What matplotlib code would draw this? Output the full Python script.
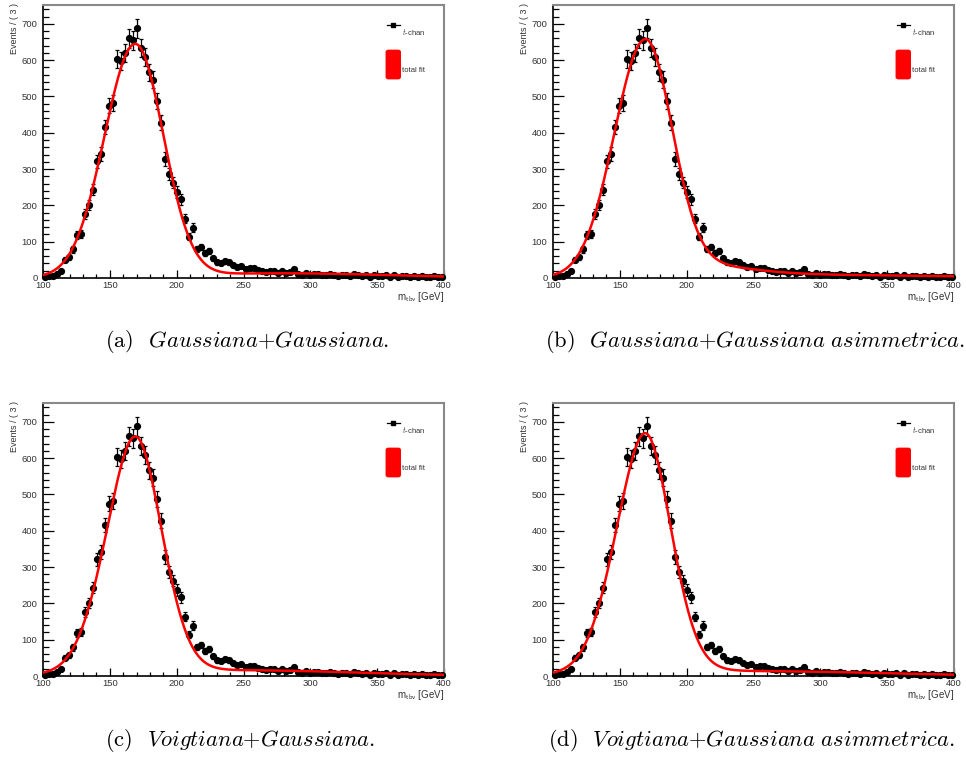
import numpy as np
import matplotlib
matplotlib.use("Agg")
import matplotlib.pyplot as plt
from matplotlib.patches import FancyBboxPatch
from matplotlib.ticker import MultipleLocator

plt.rcParams['font.family'] = ['Liberation Sans', 'DejaVu Sans']
plt.rcParams['mathtext.fontset'] = 'cm'

# istogramma di m_tbv: 100 bin da 3 GeV tra 100 e 400 GeV (stessi dati nei 4 pannelli)
bin_lo = 100
bin_w = 3
conteggi = [3, 5, 6, 12, 19, 50, 57, 79, 118, 121,
            176, 202, 243, 321, 342, 416, 475, 483, 604, 598,
            621, 660, 655, 688, 633, 608, 567, 546, 488, 427,
            328, 286, 263, 237, 217, 163, 114, 139, 80, 85,
            69, 75, 54, 43, 41, 46, 43, 36, 29, 32,
            25, 27, 28, 22, 19, 17, 19, 18, 15, 19,
            14, 16, 25, 11, 9, 14, 8, 12, 10, 9,
            7, 11, 8, 6, 9, 7, 5, 10, 7, 6,
            8, 4, 9, 6, 5, 8, 4, 7, 3, 6,
            5, 3, 6, 2, 5, 4, 3, 6, 2, 4]

# parametri dei fit letti dal grafico
# gaussiane: (ampiezza, media, sigma sinistra, sigma destra); lorentziane: (ampiezza, media, gamma)
fit_gauss = {
    'a': [(640, 169, 23, 21), (13, 280, 80, 80)],
    'b': [(640, 168.5, 23, 20), (35, 195, 20, 45), (8, 300, 100, 100)],
    'c': [(540, 171, 19.5, 19.5), (115, 149, 19, 19), (14, 260, 80, 80)],
    'd': [(530, 170, 20, 19), (105, 151, 20, 28), (12, 265, 85, 85)],
}
fit_lorentz = {
    'a': [],
    'b': [],
    'c': [(50, 171, 17)],
    'd': [(48, 170, 16)],
}

didascalie = {
    'a': r'(a)  $\mathit{Gaussiana}$+$\mathit{Gaussiana.}$',
    'b': r'(b)  $\mathit{Gaussiana}$+$\mathit{Gaussiana\ asimmetrica.}$',
    'c': r'(c)  $\mathit{Voigtiana}$+$\mathit{Gaussiana.}$',
    'd': r'(d)  $\mathit{Voigtiana}$+$\mathit{Gaussiana\ asimmetrica.}$',
}


def curva(x, gauss, lorentz):
    y = np.zeros_like(x)
    for amp, m, sl, sr in gauss:
        s = np.where(x < m, sl, sr)
        y += amp * np.exp(-0.5 * ((x - m) / s) ** 2)
    for amp, m, g in lorentz:
        y += amp / (1 + ((x - m) / g) ** 2)
    return y


W, H = 966, 758
fig = plt.figure(figsize=(W / 100, H / 100), dpi=100)

centri = bin_lo + bin_w * (np.arange(len(conteggi)) + 0.5)
errori = np.sqrt(conteggi)
xx = np.linspace(100, 400, 601)

# posizioni in pixel: (sinistra, basso asse, didascalia x, didascalia y)
pannelli = {
    'a': (43, 278, 105, 341),
    'b': (553, 278, 545, 341),
    'c': (43, 676, 105, 740),
    'd': (553, 676, 548, 740),
}

for k, (px, py, cx, cy) in pannelli.items():
    ax = fig.add_axes([px / W, (H - py) / H, 401 / W, 273 / H])
    ax.errorbar(centri, conteggi, yerr=errori, fmt='o', color='black', ms=4.2,
                capsize=1.3, elinewidth=0.9, capthick=0.9, zorder=3, clip_on=False)
    ax.plot(xx, curva(xx, fit_gauss[k], fit_lorentz[k]), color='red', lw=1.8, zorder=4)

    ax.set_xlim(100, 400)
    ax.set_ylim(0, 752)
    ax.xaxis.set_major_locator(MultipleLocator(50))
    ax.xaxis.set_minor_locator(MultipleLocator(10))
    ax.yaxis.set_major_locator(MultipleLocator(100))
    ax.yaxis.set_minor_locator(MultipleLocator(20))
    ax.tick_params(which='both', direction='in', top=False, right=False,
                   width=0.9, labelsize=6.8, labelcolor='#333333')
    ax.tick_params(axis='y', which='major', length=8, pad=4)
    ax.tick_params(axis='y', which='minor', length=4.3)
    ax.tick_params(axis='x', which='major', length=6, pad=2)
    ax.tick_params(axis='x', which='minor', length=3)
    for s in ['left', 'bottom']:
        ax.spines[s].set_color('black')
        ax.spines[s].set_linewidth(1.2)
    for s in ['top', 'right']:
        ax.spines[s].set_color('#888888')
        ax.spines[s].set_linewidth(1.5)

    ax.text(-0.072, 1.007, 'Events / ( 3 )', rotation=90, ha='center', va='top',
            fontsize=6.5, color='#333333', transform=ax.transAxes)
    ax.text(1.0, -0.07, r'm$_{\mathsf{tbv}}$ [GeV]', ha='right', va='center',
            fontsize=7, color='#333333', transform=ax.transAxes)

    # legenda in stile ROOT
    ax.plot([0.857, 0.890], [0.927, 0.927], color='black', lw=0.9,
            transform=ax.transAxes, clip_on=False)
    ax.plot([0.8735], [0.927], marker='s', ms=3, color='black',
            transform=ax.transAxes, clip_on=False)
    ax.text(0.8945, 0.902, r'$t$-chan', fontsize=5.5, va='center', ha='left',
            color='#333333', transform=ax.transAxes)
    ax.add_patch(FancyBboxPatch((0.858, 0.732), 0.031, 0.1,
                                boxstyle='round,pad=0.002,rounding_size=0.006',
                                facecolor='red', edgecolor='red',
                                transform=ax.transAxes, clip_on=False))
    ax.text(0.896, 0.759, 'total fit', fontsize=5.5, va='center', ha='left',
            color='#333333', transform=ax.transAxes)

    fig.text(cx / W, 1 - cy / H, didascalie[k], fontsize=16.2, family='cmr10',
             ha='left', va='center')

fig.savefig('out.png', dpi=100)
